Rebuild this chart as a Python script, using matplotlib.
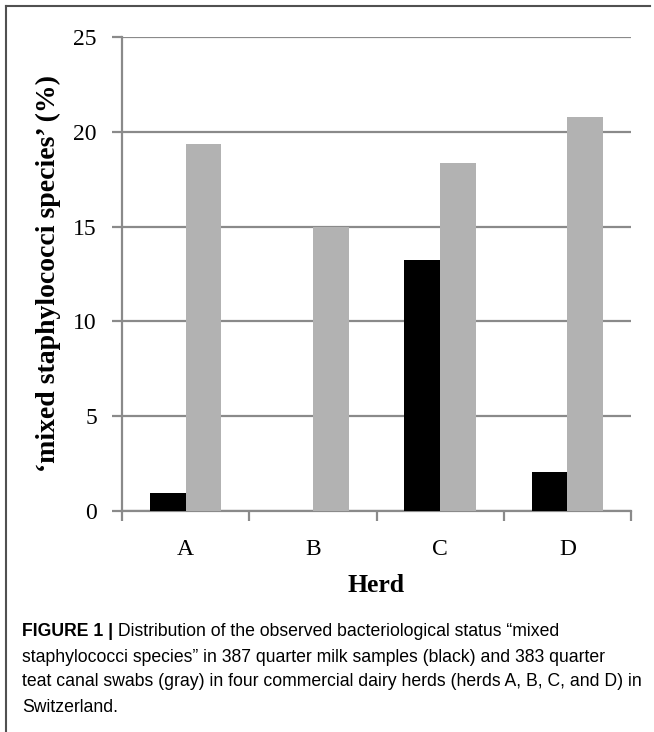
import numpy as np
import matplotlib
matplotlib.use("Agg")
import matplotlib.pyplot as plt
from matplotlib.lines import Line2D

# data
herds = ["A", "B", "C", "D"]
milk_samples = [0.95, 0.0, 13.25, 2.05]     # black
teat_swabs = [19.35, 15.0, 18.35, 20.8]     # gray
yticks = [0, 5, 10, 15, 20, 25]

caption_bold = "FIGURE 1 |"
caption_first = " Distribution of the observed bacteriological status \u201cmixed"
caption_rest = [
    "staphylococci species\u201d in 387 quarter milk samples (black) and 383 quarter",
    "teat canal swabs (gray) in four commercial dairy herds (herds A, B, C, and D) in",
    "Switzerland.",
]

W, H = 654, 732
fig = plt.figure(figsize=(W / 100, H / 100), dpi=100)
ax = fig.add_axes([122 / W, (H - 511) / H, 509 / W, 474 / H])

grid_col = "#8a8a8a"
x = np.arange(len(herds))
bw = 0.28
ax.bar(x - bw / 2, milk_samples, width=bw, color="black", zorder=3)
ax.bar(x + bw / 2, teat_swabs, width=bw, color="#b2b2b2", zorder=3)

ax.set_xlim(-0.5, len(herds) - 0.5)
ax.set_ylim(0, 25)
ax.set_yticks(yticks)
ax.yaxis.grid(True, color=grid_col, linewidth=1.6, zorder=1)
ax.set_axisbelow(True)

# category boundaries carry the tick marks, labels sit in the middle
ax.set_xticks(np.arange(-0.5, len(herds)), minor=False)
ax.set_xticklabels([])
ax.set_xticks(x, minor=True)
ax.set_xticklabels(herds, minor=True)
ax.tick_params(axis="x", which="major", length=7, width=1.6, color=grid_col, direction="out")
ax.tick_params(axis="x", which="minor", length=0, pad=20)
ax.tick_params(axis="y", length=7, width=1.6, color=grid_col, direction="out", pad=11)

for lab in ax.get_xticklabels(minor=True) + ax.get_yticklabels():
    lab.set_family("Liberation Serif")
    lab.set_fontsize(17)

for s in ["top", "right"]:
    ax.spines[s].set_visible(False)
for s in ["left", "bottom"]:
    ax.spines[s].set_color(grid_col)
    ax.spines[s].set_linewidth(1.6)

ax.set_xlabel("Herd", family="Liberation Serif", fontweight="bold", fontsize=18.5, labelpad=10)
ax.set_ylabel("\u2018mixed staphylococci species\u2019 (%)", family="Liberation Serif",
              fontweight="bold", fontsize=20, labelpad=9)

# frame of the figure panel: top and left lines
fig.add_artist(Line2D([6 / W, 650 / W], [1 - 6 / H, 1 - 6 / H], color="#505050", linewidth=1.5))
fig.add_artist(Line2D([6 / W, 6 / W], [1 - 6 / H, 0], color="#505050", linewidth=1.5))

# caption
cap_size = 12.7
y0 = 1 - 632 / H
t = fig.text(22 / W, y0, caption_bold, family="Liberation Sans", fontweight="bold",
             fontsize=cap_size, va="center", ha="left")
renderer = fig.canvas.get_renderer()
bb = t.get_window_extent(renderer=renderer)
fig.text(bb.x1 / W, y0, caption_first, family="Liberation Sans", fontsize=cap_size,
         va="center", ha="left")
for i, line in enumerate(caption_rest):
    fig.text(22 / W, y0 - (i + 1) * 25 / H, line, family="Liberation Sans", fontsize=cap_size,
             va="center", ha="left")

fig.savefig("out.png", dpi=100)
